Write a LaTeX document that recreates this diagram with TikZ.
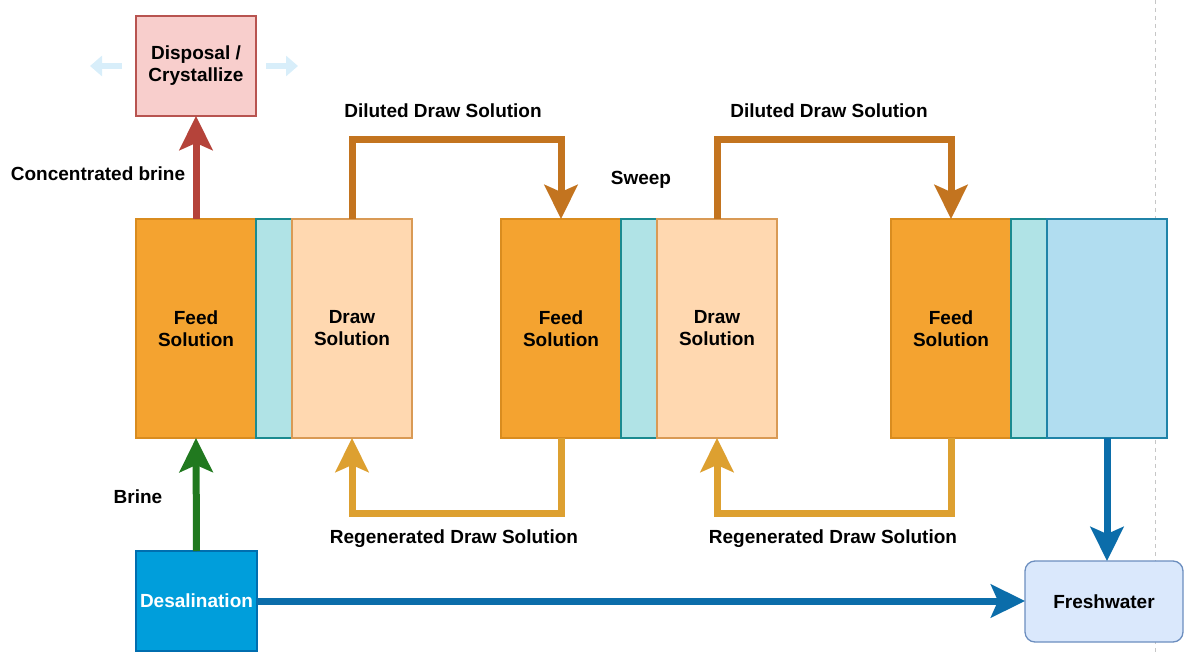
\documentclass[tikz,border=0pt]{standalone}
\usepackage{fontspec}
\setmainfont{Liberation Sans}
\usetikzlibrary{arrows.meta}
\definecolor{feedF}{HTML}{F4A330}
\definecolor{feedS}{HTML}{D98C1F}
\definecolor{drawF}{HTML}{FFD8B0}
\definecolor{drawS}{HTML}{D99A55}
\definecolor{memF}{HTML}{B0E3E6}
\definecolor{memS}{HTML}{1A8A90}
\definecolor{freshF}{HTML}{B1DDF0}
\definecolor{freshS}{HTML}{2083A8}
\definecolor{dispF}{HTML}{F8CECC}
\definecolor{dispS}{HTML}{B85450}
\definecolor{desF}{HTML}{009EDB}
\definecolor{desS}{HTML}{006EAF}
\definecolor{fwF}{HTML}{DAE8FC}
\definecolor{fwS}{HTML}{6C8EBF}
\definecolor{redA}{HTML}{B5433A}
\definecolor{greenA}{HTML}{21791F}
\definecolor{dilA}{HTML}{C3741F}
\definecolor{regA}{HTML}{DDA030}
\definecolor{blueA}{HTML}{0B6DAA}
\definecolor{hint}{HTML}{D8EEFA}
\tikzset{
  txt/.style={font=\bfseries\fontsize{19}{22}\selectfont, align=center, inner sep=0pt},
  blk/.style={draw, line width=1.3pt, anchor=north west, outer sep=0pt, inner sep=0pt,
     font=\bfseries\fontsize{19}{22}\selectfont, align=center},
  feed/.style={blk, fill=feedF, draw=feedS, minimum width=120pt, minimum height=219pt},
  mem/.style={blk, fill=memF, draw=memS, minimum width=36pt, minimum height=219pt},
  drawbox/.style={blk, fill=drawF, draw=drawS, minimum width=120pt, minimum height=219pt},
  flow/.style={line width=7pt, -{Stealth[length=34pt,width=33pt,inset=7pt]}},
}
\begin{document}
\begin{tikzpicture}[x=1pt,y=-1pt]
\useasboundingbox (0,0) rectangle (1184,652);
% dashed page line
\draw[gray!45, line width=0.8pt, dash pattern=on 4pt off 4pt] (1155,0) -- (1155,652);

% disposal
\node[blk, fill=dispF, draw=dispS, minimum width=120pt, minimum height=100pt] (disp) at (136,16) {Disposal /\\Crystallize};
\coordinate (hl1) at (122,66); \coordinate (hl2) at (90,66);
\coordinate (hr1) at (266,66); \coordinate (hr2) at (298,66);
\draw[hint, line width=6pt, -{Triangle[length=12pt,width=20pt]}] (hl1) -- (hl2);
\draw[hint, line width=6pt, -{Triangle[length=12pt,width=20pt]}] (hr1) -- (hr2);

% unit 1
\node[feed] (f1) at (136,219) {Feed\\Solution};
\node[mem] (m1) at (256,219) {};
\node[drawbox] (d1) at (292,219) {Draw\\Solution};
% unit 2
\node[feed] (f2) at (501,219) {Feed\\Solution};
\node[mem] (m2) at (621,219) {};
\node[drawbox] (d2) at (657,219) {Draw\\Solution};
% unit 3
\node[feed] (f3) at (891,219) {Feed\\Solution};
\node[mem] (m3) at (1011,219) {};
\node[blk, fill=freshF, draw=freshS, minimum width=120pt, minimum height=219pt] (fb) at (1047,219) {};

% desalination
\node[blk, fill=desF, draw=desS, text=white, minimum width=121pt, minimum height=100pt] (des) at (136,551) {Desalination};
% freshwater
\node[blk, fill=fwF, draw=fwS, rounded corners=10pt, minimum width=158pt, minimum height=81pt] (fw) at (1025,561) {Freshwater};

% arrows
\draw[flow, redA] (f1.north) -- (disp.south);
\draw[flow, greenA] (des.north) -- (f1.south);
\draw[flow, blueA] (des.east |- 0,601) -- (fw.west |- 0,601);
\draw[flow, blueA] (fb.south) -- (fw.north -| fb.south);
\draw[flow, dilA, line join=miter] (d1.north) -- (d1.north |- 0,140) -- (f2.north |- 0,140) -- (f2.north);
\draw[flow, dilA, line join=miter] (d2.north) -- (d2.north |- 0,140) -- (f3.north |- 0,140) -- (f3.north);
\draw[flow, regA, line join=miter] (f2.south) -- (f2.south |- 0,513) -- (d1.south |- 0,513) -- (d1.south);
\draw[flow, regA, line join=miter] (f3.south) -- (f3.south |- 0,513) -- (d2.south |- 0,513) -- (d2.south);

% labels
\node[txt] (lconc) at (98,174) {Concentrated brine};
\node[txt] (lbrine) at (138,497) {Brine};
\node[txt] (ldil1) at (443,111) {Diluted Draw Solution};
\node[txt] (ldil2) at (829,111) {Diluted Draw Solution};
\node[txt] (lsweep) at (641,180) {Sweep};
\node[txt] (lreg1) at (454,539) {Regenerated Draw Solution};
\node[txt] (lreg2) at (833,539) {Regenerated Draw Solution};
\end{tikzpicture}
\end{document}
